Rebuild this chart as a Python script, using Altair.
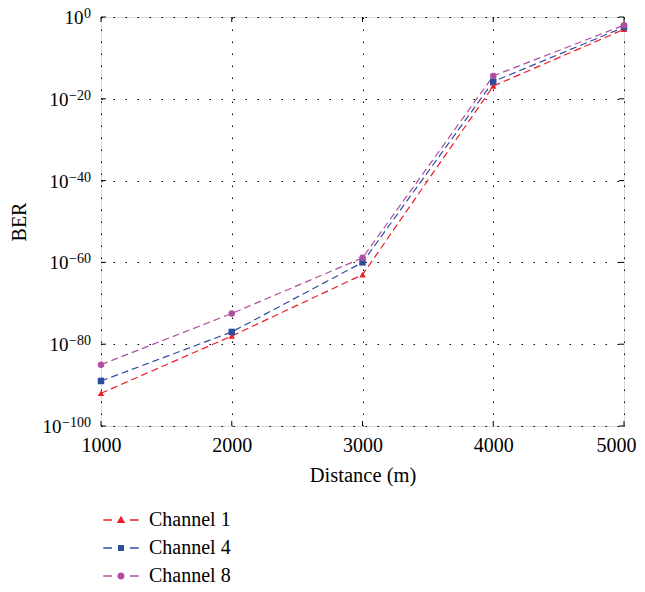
import altair as alt
import pandas as pd

# ---- data ----
distance = [1000, 2000, 3000, 4000, 5000]
channel_1 = [1e-92, 1e-78, 1e-63, 1.3e-17, 1e-3]
channel_4 = [1e-89, 1e-77, 1e-60, 1.6e-16, 3.2e-3]
channel_8 = [1e-85, 3.2e-73, 1.3e-59, 4e-15, 1e-2]
series_names = ["Channel 1", "Channel 4", "Channel 8"]
series_colors = ["#ee1c25", "#2e4d9f", "#b04fa0"]
marker_shapes = ["triangle-up", "square", "circle"]

x_ticks = [1000, 2000, 3000, 4000, 5000]
y_ticks = [1e-100, 1e-80, 1e-60, 1e-40, 1e-20, 1]
y_tick_exponents = ["\u2212100", "\u221280", "\u221260", "\u221240", "\u221220", "0"]

# legend glyphs: dash + marker + dash drawn as filled paths
dash_l = "M-1.77,-0.07H-0.9V0.07H-1.77Z"
dash_r = "M0.9,-0.07H1.77V0.07H0.9Z"
legend_paths = [
    dash_l + dash_r + "M-0.42,0.3L0.42,0.3L0,-0.42Z",
    dash_l + dash_r + "M-0.3,-0.3H0.3V0.3H-0.3Z",
    dash_l + dash_r + "M0.36,0A0.36,0.36 0 1,1 -0.36,0A0.36,0.36 0 1,1 0.36,0Z",
]

rows = []
for name, vals in zip(series_names, [channel_1, channel_4, channel_8]):
    for d, v in zip(distance, vals):
        rows.append({"distance": d, "ber": v, "series": name})
df = pd.DataFrame(rows)

FONT = "Liberation Serif"
W, H = 523, 409

xs = alt.Scale(domain=[1000, 5000], nice=False, zero=False)
ys = alt.Scale(type="log", domain=[1e-100, 1], nice=False)

grid = dict(grid=True, gridDash=[1.5, 10.5], gridColor="black", gridOpacity=1,
            gridWidth=1, ticks=False, domain=False)

x_enc = alt.X("distance:Q", scale=xs,
              axis=alt.Axis(values=x_ticks, format="d", title="Distance (m)",
                            labelPadding=9, titlePadding=10, labelFontSize=20,
                            labelOffset=alt.condition("datum.value == 5000", alt.value(-8), alt.value(0)),
                            titleFontSize=20.5, labelFont=FONT, titleFont=FONT,
                            titleFontWeight="normal", labelColor="black",
                            titleColor="black", labelFlush=False, **grid))
y_enc = alt.Y("ber:Q", scale=ys,
              axis=alt.Axis(values=y_ticks, labels=False, title="BER",
                            titlePadding=72, titleFontSize=20, titleFont=FONT,
                            titleFontWeight="normal", titleColor="black", **grid))

lines = alt.Chart(df).mark_line(strokeWidth=1.2, strokeDash=[7, 4]).encode(
    x=x_enc, y=y_enc,
    stroke=alt.Stroke("series:N", scale=alt.Scale(domain=series_names, range=series_colors), legend=None),
    detail="series:N",
)

points = alt.Chart(df).mark_point(filled=True, size=42, opacity=1, strokeWidth=0).encode(
    x=alt.X("distance:Q", scale=xs), y=alt.Y("ber:Q", scale=ys),
    fill=alt.Fill("series:N", scale=alt.Scale(domain=series_names, range=series_colors), legend=None),
    shape=alt.Shape("series:N", scale=alt.Scale(domain=series_names, range=marker_shapes), legend=None),
)

leg = dict(title=None, orient="none", legendX=9, legendY=492, symbolSize=400,
           labelOffset=17, rowPadding=7, labelFont=FONT, labelFontSize=20,
           labelColor="black", symbolOpacity=1)
legend_src = alt.Chart(df).mark_point(filled=True, size=400, opacity=0, strokeWidth=0).encode(
    x=alt.X("distance:Q", scale=xs), y=alt.Y("ber:Q", scale=ys),
    fill=alt.Fill("series:N", scale=alt.Scale(domain=series_names, range=series_colors),
                  legend=alt.Legend(**leg)),
    shape=alt.Shape("series:N", scale=alt.Scale(domain=series_names, range=legend_paths),
                    legend=alt.Legend(**leg)),
)

xt = pd.DataFrame({"t": x_ticks})
yt = pd.DataFrame({"t": y_ticks, "e": y_tick_exponents})
tick_b = alt.Chart(xt).mark_rule(color="black", strokeWidth=1).encode(
    x=alt.X("t:Q", scale=xs), y=alt.value(H), y2=alt.value(H - 5))
tick_t = alt.Chart(xt).mark_rule(color="black", strokeWidth=1).encode(
    x=alt.X("t:Q", scale=xs), y=alt.value(0), y2=alt.value(5))
tick_l = alt.Chart(yt).mark_rule(color="black", strokeWidth=1).encode(
    y=alt.Y("t:Q", scale=ys), x=alt.value(0), x2=alt.value(5))
tick_r = alt.Chart(yt).mark_rule(color="black", strokeWidth=1).encode(
    y=alt.Y("t:Q", scale=ys), x=alt.value(W), x2=alt.value(W - 5))

# y tick labels: "10" with a superscript exponent
exp_text = alt.Chart(yt).mark_text(align="right", baseline="alphabetic", dy=1,
                                   font=FONT, fontSize=14, color="black").encode(
    y=alt.Y("t:Q", scale=ys), x=alt.value(-10), text="e:N")
base_text = alt.Chart(yt).transform_calculate(
    px="-10.5 - (indexof(datum.e, '\u2212') >= 0 ? 7.9 + (length(datum.e) - 1) * 7 : length(datum.e) * 7)"
).mark_text(align="right", baseline="alphabetic", dy=7, font=FONT, fontSize=19,
            color="black").encode(
    y=alt.Y("t:Q", scale=ys), x=alt.X("px:Q", scale=None), text=alt.value("10"))

chart = alt.layer(lines, points, tick_b, tick_t, tick_l, tick_r, exp_text, base_text,
                  legend_src).resolve_scale(
    shape="independent", fill="independent"
).properties(
    width=W, height=H,
    autosize=alt.AutoSizeParams(type="none"),
    padding={"left": 93, "top": 9, "right": 13, "bottom": 158},
).configure_view(stroke="black", strokeWidth=1).configure(background="white")

chart.save("out.html", embed_options={"renderer": "svg", "actions": False})
